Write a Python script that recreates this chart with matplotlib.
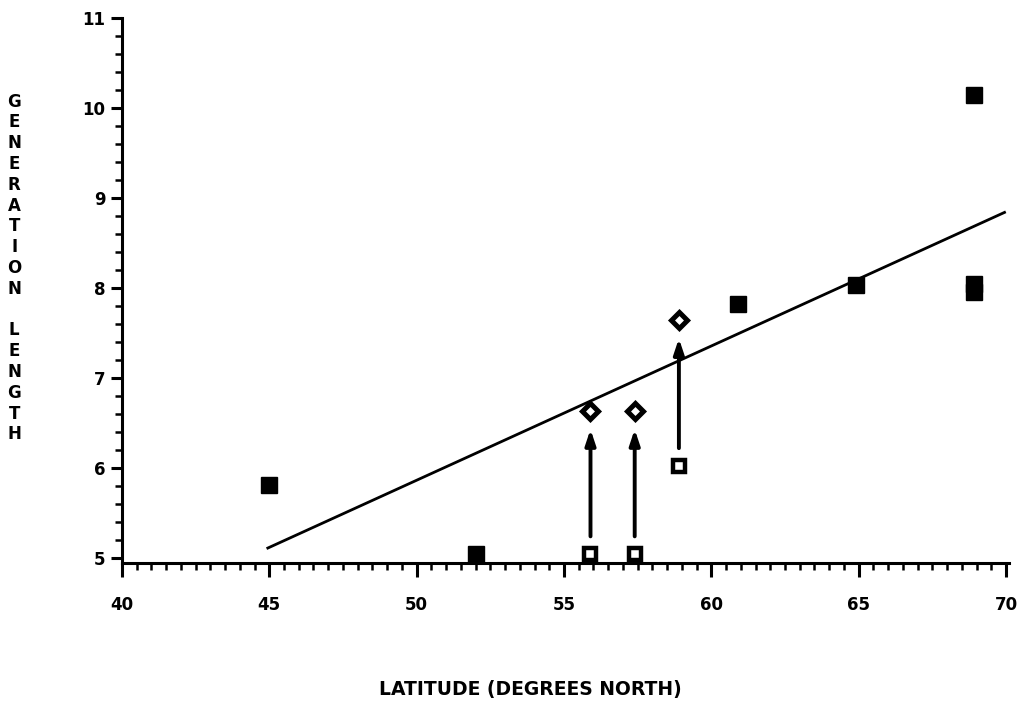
import matplotlib
matplotlib.use("Agg")
import matplotlib.pyplot as plt
from matplotlib.ticker import MultipleLocator

# Observed generation lengths (filled squares)
obs_lat = [45.0, 52.0, 60.9, 64.9, 68.9, 68.9, 68.9]
obs_gen = [5.81, 5.04, 7.82, 8.03, 10.14, 8.04, 7.95]

# Uncorrected values (open squares) and corrected values (diamonds)
raw_lat = [55.9, 57.4, 58.9]
raw_gen = [5.04, 5.04, 6.02]
adj_gen = [6.63, 6.63, 7.64]

# Fitted regression line end points
fit_lat = [44.95, 69.95]
fit_gen = [5.11, 8.84]

x_ticks = [40, 45, 50, 55, 60, 65, 70]
y_ticks = [5, 6, 7, 8, 9, 10, 11]

plt.rcParams['font.family'] = ['DejaVu Sans']
fig = plt.figure(figsize=(10.18, 7.07), dpi=100)
ax = fig.add_axes([0.1198, 0.2037, 0.8713, 0.7708])

ax.plot(fit_lat, fit_gen, color='black', lw=2.0, zorder=2)

for x, y0, y1 in zip(raw_lat, raw_gen, adj_gen):
    ax.annotate('', xy=(x, y1 - 0.2), xytext=(x, y0 + 0.2),
                arrowprops=dict(arrowstyle='-|>,head_length=0.9,head_width=0.3',
                                lw=2.8, color='black', shrinkA=0, shrinkB=0),
                zorder=3)

ax.plot(obs_lat, obs_gen, 's', color='black', ms=11, zorder=4)
ax.plot(raw_lat, raw_gen, 's', mfc='white', mec='black', mew=3.2, ms=8, zorder=4)
ax.plot(raw_lat, adj_gen, 'D', mfc='white', mec='black', mew=3.6, ms=8.5, zorder=4)

ax.set_xlim(40, 70.1)
ax.set_ylim(4.944, 11.0)
ax.set_xticks(x_ticks)
ax.set_yticks(y_ticks)
ax.xaxis.set_minor_locator(MultipleLocator(0.5))
ax.yaxis.set_minor_locator(MultipleLocator(0.2))

for s in ['top', 'right']:
    ax.spines[s].set_visible(False)
for s in ['left', 'bottom']:
    ax.spines[s].set_linewidth(2.2)

ax.tick_params(axis='x', which='major', direction='out', length=10, width=2.2,
               pad=14, labelsize=12)
ax.tick_params(axis='x', which='minor', direction='out', length=5, width=1.8)
ax.tick_params(axis='y', which='major', direction='out', length=8, width=2.2,
               pad=4, labelsize=12)
ax.tick_params(axis='y', which='minor', direction='out', length=5, width=1.8)
for lab in ax.get_xticklabels() + ax.get_yticklabels():
    lab.set_fontweight('bold')

fig.text(0.521, 0.025, 'LATITUDE (DEGREES NORTH)', ha='center', va='center',
         fontsize=13.5, fontweight='bold')

ylabel = 'GENERATION LENGTH'
fig.text(0.014, 0.621, '\n'.join(ylabel), ha='center', va='center',
         fontsize=12, fontweight='bold', linespacing=1.2)

fig.savefig('out.png', dpi=100, facecolor='white')
